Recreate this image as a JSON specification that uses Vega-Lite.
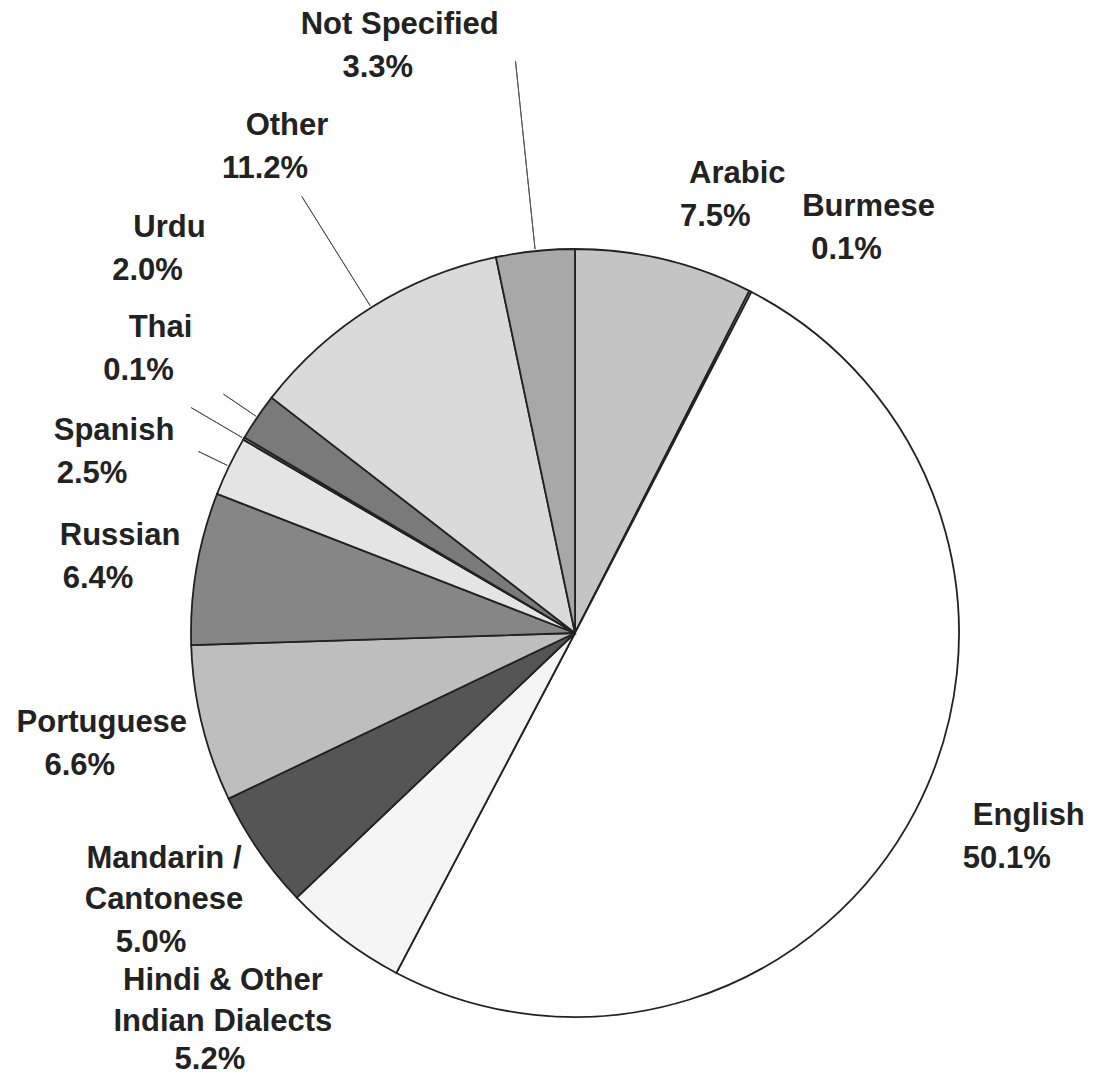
{
  "$schema": "https://vega.github.io/schema/vega-lite/v6.json",
  "width": 1040,
  "height": 892,
  "autosize": "none",
  "padding": {"left": 55, "top": 187, "right": 0, "bottom": 0},
  "background": "white",
  "config": {
    "view": {"stroke": null},
    "text": {"font": "Liberation Sans", "fontWeight": "bold", "fontSize": 31, "fill": "#222222", "lineBreak": "\n", "lineHeight": 41, "align": "center"}
  },
  "data": {
    "values": [
      {"language": "Arabic", "share": 0.075},
      {"language": "Burmese", "share": 0.001},
      {"language": "English", "share": 0.501},
      {"language": "Hindi & Other\nIndian Dialects", "share": 0.052},
      {"language": "Mandarin /\nCantonese", "share": 0.05},
      {"language": "Portuguese", "share": 0.066},
      {"language": "Russian", "share": 0.064},
      {"language": "Spanish", "share": 0.025},
      {"language": "Thai", "share": 0.001},
      {"language": "Urdu", "share": 0.02},
      {"language": "Other", "share": 0.112},
      {"language": "Not Specified", "share": 0.033}
    ]
  },
  "transform": [{"window": [{"op": "row_number", "as": "rank"}]}],
  "layer": [
    {
      "mark": {"type": "arc", "radius": 384, "stroke": "#222222", "strokeWidth": 1.8},
      "encoding": {
        "theta": {"field": "share", "type": "quantitative", "stack": true},
        "order": {"field": "rank", "type": "quantitative"},
        "color": {
          "field": "language", "type": "nominal", "legend": null,
          "scale": {
            "domain": ["Arabic", "Burmese", "English", "Hindi & Other\nIndian Dialects", "Mandarin /\nCantonese", "Portuguese", "Russian", "Spanish", "Thai", "Urdu", "Other", "Not Specified"],
            "range": ["#c4c4c4", "#9a9a9a", "#ffffff", "#f5f5f5", "#555555", "#bebebe", "#868686", "#e4e4e4", "#b0b0b0", "#7a7a7a", "#dadada", "#a8a8a8"]
          }
        }
      }
    },
    {
      "mark": {"type": "arc", "radius": 575, "radius2": 386, "padAngle": 1.2, "fill": "transparent", "stroke": "#555555", "strokeWidth": 1},
      "encoding": {
        "theta": {"field": "share", "type": "quantitative", "stack": true},
        "order": {"field": "rank", "type": "quantitative"},
        "strokeOpacity": {"condition": {"test": "datum.rank == 12", "value": 1}, "value": 0}
      }
    },
    {
      "mark": {"type": "arc", "radius": 515, "radius2": 386, "padAngle": 1.2, "fill": "transparent", "stroke": "#555555", "strokeWidth": 1},
      "encoding": {
        "theta": {"field": "share", "type": "quantitative", "stack": true},
        "order": {"field": "rank", "type": "quantitative"},
        "strokeOpacity": {"condition": {"test": "datum.rank == 11", "value": 1}, "value": 0}
      }
    },
    {
      "mark": {"type": "arc", "radius": 425, "radius2": 386, "padAngle": 1.2, "fill": "transparent", "stroke": "#555555", "strokeWidth": 1},
      "encoding": {
        "theta": {"field": "share", "type": "quantitative", "stack": true},
        "order": {"field": "rank", "type": "quantitative"},
        "strokeOpacity": {"condition": {"test": "datum.rank == 10", "value": 1}, "value": 0}
      }
    },
    {
      "mark": {"type": "arc", "radius": 445, "radius2": 386, "padAngle": 1.2, "fill": "transparent", "stroke": "#555555", "strokeWidth": 1},
      "encoding": {
        "theta": {"field": "share", "type": "quantitative", "stack": true},
        "order": {"field": "rank", "type": "quantitative"},
        "strokeOpacity": {"condition": {"test": "datum.rank == 9", "value": 1}, "value": 0}
      }
    },
    {
      "mark": {"type": "arc", "radius": 418, "radius2": 386, "padAngle": 1.2, "fill": "transparent", "stroke": "#555555", "strokeWidth": 1},
      "encoding": {
        "theta": {"field": "share", "type": "quantitative", "stack": true},
        "order": {"field": "rank", "type": "quantitative"},
        "strokeOpacity": {"condition": {"test": "datum.rank == 8", "value": 1}, "value": 0}
      }
    },
    {"mark": {"type": "text", "radius": 462, "thetaOffset": 0.098, "baseline": "bottom", "dx": 11, "dy": -6},
     "encoding": {"theta": {"field": "share", "type": "quantitative", "stack": true}, "order": {"field": "rank", "type": "quantitative"},
       "text": {"condition": {"test": "datum.rank == 1", "field": "language", "type": "nominal"}, "value": ""}}},
    {"mark": {"type": "text", "radius": 462, "thetaOffset": 0.098, "baseline": "top", "dx": -11, "dy": 6},
     "encoding": {"theta": {"field": "share", "type": "quantitative", "stack": true}, "order": {"field": "rank", "type": "quantitative"},
       "text": {"condition": {"test": "datum.rank == 1", "field": "share", "type": "quantitative", "format": ".1%"}, "value": ""}}},
    {"mark": {"type": "text", "radius": 493, "thetaOffset": 0.136, "baseline": "bottom", "dx": 11, "dy": -6},
     "encoding": {"theta": {"field": "share", "type": "quantitative", "stack": true}, "order": {"field": "rank", "type": "quantitative"},
       "text": {"condition": {"test": "datum.rank == 2", "field": "language", "type": "nominal"}, "value": ""}}},
    {"mark": {"type": "text", "radius": 493, "thetaOffset": 0.136, "baseline": "top", "dx": -11, "dy": 6},
     "encoding": {"theta": {"field": "share", "type": "quantitative", "stack": true}, "order": {"field": "rank", "type": "quantitative"},
       "text": {"condition": {"test": "datum.rank == 2", "field": "share", "type": "quantitative", "format": ".1%"}, "value": ""}}},
    {"mark": {"type": "text", "radius": 488, "thetaOffset": -0.047, "baseline": "bottom", "dx": 11, "dy": -6},
     "encoding": {"theta": {"field": "share", "type": "quantitative", "stack": true}, "order": {"field": "rank", "type": "quantitative"},
       "text": {"condition": {"test": "datum.rank == 3", "field": "language", "type": "nominal"}, "value": ""}}},
    {"mark": {"type": "text", "radius": 488, "thetaOffset": -0.047, "baseline": "top", "dx": -11, "dy": 6},
     "encoding": {"theta": {"field": "share", "type": "quantitative", "stack": true}, "order": {"field": "rank", "type": "quantitative"},
       "text": {"condition": {"test": "datum.rank == 3", "field": "share", "type": "quantitative", "format": ".1%"}, "value": ""}}},
    {"mark": {"type": "text", "radius": 540, "thetaOffset": 0.068, "baseline": "bottom", "dx": 2, "dy": -44},
     "encoding": {"theta": {"field": "share", "type": "quantitative", "stack": true}, "order": {"field": "rank", "type": "quantitative"},
       "text": {"condition": {"test": "datum.rank == 4", "field": "language", "type": "nominal"}, "value": ""}}},
    {"mark": {"type": "text", "radius": 540, "thetaOffset": 0.068, "baseline": "top", "dx": -11, "dy": 4},
     "encoding": {"theta": {"field": "share", "type": "quantitative", "stack": true}, "order": {"field": "rank", "type": "quantitative"},
       "text": {"condition": {"test": "datum.rank == 4", "field": "share", "type": "quantitative", "format": ".1%"}, "value": ""}}},
    {"mark": {"type": "text", "radius": 509, "thetaOffset": -0.021, "baseline": "bottom", "dx": 2, "dy": -55},
     "encoding": {"theta": {"field": "share", "type": "quantitative", "stack": true}, "order": {"field": "rank", "type": "quantitative"},
       "text": {"condition": {"test": "datum.rank == 5", "field": "language", "type": "nominal"}, "value": ""}}},
    {"mark": {"type": "text", "radius": 509, "thetaOffset": -0.021, "baseline": "top", "dx": -11, "dy": -2},
     "encoding": {"theta": {"field": "share", "type": "quantitative", "stack": true}, "order": {"field": "rank", "type": "quantitative"},
       "text": {"condition": {"test": "datum.rank == 5", "field": "share", "type": "quantitative", "format": ".1%"}, "value": ""}}},
    {"mark": {"type": "text", "radius": 497, "thetaOffset": 0.011, "baseline": "bottom", "dx": 11, "dy": -6},
     "encoding": {"theta": {"field": "share", "type": "quantitative", "stack": true}, "order": {"field": "rank", "type": "quantitative"},
       "text": {"condition": {"test": "datum.rank == 6", "field": "language", "type": "nominal"}, "value": ""}}},
    {"mark": {"type": "text", "radius": 497, "thetaOffset": 0.011, "baseline": "top", "dx": -11, "dy": 6},
     "encoding": {"theta": {"field": "share", "type": "quantitative", "stack": true}, "order": {"field": "rank", "type": "quantitative"},
       "text": {"condition": {"test": "datum.rank == 6", "field": "share", "type": "quantitative", "format": ".1%"}, "value": ""}}},
    {"mark": {"type": "text", "radius": 472, "thetaOffset": -0.009, "baseline": "bottom", "dx": 11, "dy": -6},
     "encoding": {"theta": {"field": "share", "type": "quantitative", "stack": true}, "order": {"field": "rank", "type": "quantitative"},
       "text": {"condition": {"test": "datum.rank == 7", "field": "language", "type": "nominal"}, "value": ""}}},
    {"mark": {"type": "text", "radius": 472, "thetaOffset": -0.009, "baseline": "top", "dx": -11, "dy": 6},
     "encoding": {"theta": {"field": "share", "type": "quantitative", "stack": true}, "order": {"field": "rank", "type": "quantitative"},
       "text": {"condition": {"test": "datum.rank == 7", "field": "share", "type": "quantitative", "format": ".1%"}, "value": ""}}},
    {"mark": {"type": "text", "radius": 505, "thetaOffset": -0.0855, "baseline": "bottom", "dx": 11, "dy": -6},
     "encoding": {"theta": {"field": "share", "type": "quantitative", "stack": true}, "order": {"field": "rank", "type": "quantitative"},
       "text": {"condition": {"test": "datum.rank == 8", "field": "language", "type": "nominal"}, "value": ""}}},
    {"mark": {"type": "text", "radius": 505, "thetaOffset": -0.0855, "baseline": "top", "dx": -11, "dy": 6},
     "encoding": {"theta": {"field": "share", "type": "quantitative", "stack": true}, "order": {"field": "rank", "type": "quantitative"},
       "text": {"condition": {"test": "datum.rank == 8", "field": "share", "type": "quantitative", "format": ".1%"}, "value": ""}}},
    {"mark": {"type": "text", "radius": 511, "thetaOffset": 0.056, "baseline": "bottom", "dx": 11, "dy": -6},
     "encoding": {"theta": {"field": "share", "type": "quantitative", "stack": true}, "order": {"field": "rank", "type": "quantitative"},
       "text": {"condition": {"test": "datum.rank == 9", "field": "language", "type": "nominal"}, "value": ""}}},
    {"mark": {"type": "text", "radius": 511, "thetaOffset": 0.056, "baseline": "top", "dx": -11, "dy": 6},
     "encoding": {"theta": {"field": "share", "type": "quantitative", "stack": true}, "order": {"field": "rank", "type": "quantitative"},
       "text": {"condition": {"test": "datum.rank == 9", "field": "share", "type": "quantitative", "format": ".1%"}, "value": ""}}},
    {"mark": {"type": "text", "radius": 566, "thetaOffset": 0.147, "baseline": "bottom", "dx": 11, "dy": -6},
     "encoding": {"theta": {"field": "share", "type": "quantitative", "stack": true}, "order": {"field": "rank", "type": "quantitative"},
       "text": {"condition": {"test": "datum.rank == 10", "field": "language", "type": "nominal"}, "value": ""}}},
    {"mark": {"type": "text", "radius": 566, "thetaOffset": 0.147, "baseline": "top", "dx": -11, "dy": 6},
     "encoding": {"theta": {"field": "share", "type": "quantitative", "stack": true}, "order": {"field": "rank", "type": "quantitative"},
       "text": {"condition": {"test": "datum.rank == 10", "field": "share", "type": "quantitative", "format": ".1%"}, "value": ""}}},
    {"mark": {"type": "text", "radius": 570, "thetaOffset": 0.007, "baseline": "bottom", "dx": 11, "dy": -6},
     "encoding": {"theta": {"field": "share", "type": "quantitative", "stack": true}, "order": {"field": "rank", "type": "quantitative"},
       "text": {"condition": {"test": "datum.rank == 11", "field": "language", "type": "nominal"}, "value": ""}}},
    {"mark": {"type": "text", "radius": 570, "thetaOffset": 0.007, "baseline": "top", "dx": -11, "dy": 6},
     "encoding": {"theta": {"field": "share", "type": "quantitative", "stack": true}, "order": {"field": "rank", "type": "quantitative"},
       "text": {"condition": {"test": "datum.rank == 11", "field": "share", "type": "quantitative", "format": ".1%"}, "value": ""}}},
    {"mark": {"type": "text", "radius": 615, "thetaOffset": -0.204, "baseline": "bottom", "dx": 11, "dy": -6},
     "encoding": {"theta": {"field": "share", "type": "quantitative", "stack": true}, "order": {"field": "rank", "type": "quantitative"},
       "text": {"condition": {"test": "datum.rank == 12", "field": "language", "type": "nominal"}, "value": ""}}},
    {"mark": {"type": "text", "radius": 615, "thetaOffset": -0.204, "baseline": "top", "dx": -11, "dy": 6},
     "encoding": {"theta": {"field": "share", "type": "quantitative", "stack": true}, "order": {"field": "rank", "type": "quantitative"},
       "text": {"condition": {"test": "datum.rank == 12", "field": "share", "type": "quantitative", "format": ".1%"}, "value": ""}}}
  ]
}
